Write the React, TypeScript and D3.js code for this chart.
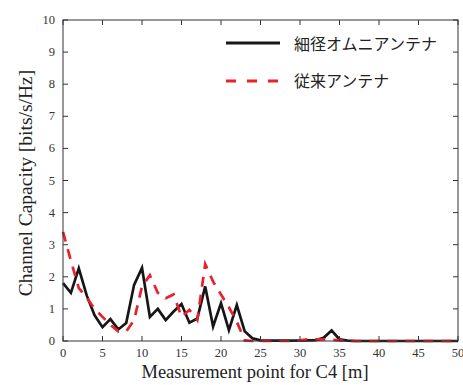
import React from 'react';
import * as d3 from 'd3';

// measurement points 0..50 m
const positions = d3.range(0, 51);

// 細径オムニアンテナ (solid black)
const omniCapacity = [
  1.8, 1.5, 2.26, 1.42, 0.8, 0.43, 0.68, 0.36, 0.56, 1.75,
  2.28, 0.75, 1.0, 0.65, 0.92, 1.15, 0.57, 0.7, 1.7, 0.45,
  1.18, 0.34, 1.12, 0.3, 0.08, 0.02, 0.01, 0.01, 0.01, 0.01,
  0.01, 0.02, 0.03, 0.1, 0.33, 0.05, 0.01, 0.0, 0.0, 0.0,
  0.0, 0.0, 0.0, 0.0, 0.0, 0.0, 0.0, 0.0, 0.0, 0.0, 0.0,
];

// 従来アンテナ (dashed red)
const conventionalCapacity = [
  3.4, 2.5, 1.65, 1.35, 1.0, 0.75, 0.5, 0.3, 0.3, 0.65,
  1.7, 2.05, 1.5, 1.33, 1.45, 0.75, 0.97, 0.65, 2.4, 1.85,
  1.45, 1.05, 0.6, 0.02, 0.0, 0.0, 0.0, 0.0, 0.0, 0.0,
  0.02, 0.05, 0.05, 0.05, 0.04, 0.02, 0.0, 0.0, 0.0, 0.0,
  0.0, 0.0, 0.0, 0.0, 0.0, 0.0, 0.0, 0.0, 0.0, 0.0, 0.0,
];

const xTicks = d3.range(0, 51, 5);
const yTicks = d3.range(0, 11, 1);
const legendLabels = ['細径オムニアンテナ', '従来アンテナ'];

const W = 463;
const H = 385;
const margin = { top: 20, right: 5, bottom: 44, left: 63 };
const serif = '"Liberation Serif", "Times New Roman", serif';
const RED = '#e8212b';
const BLACK = '#161616';

export default function App() {
  const x = d3.scaleLinear().domain([0, 50]).range([margin.left, W - margin.right]);
  const y = d3.scaleLinear().domain([0, 10]).range([H - margin.bottom, margin.top]);

  const line = d3.line<number>()
    .x((_, i) => x(positions[i]))
    .y(d => y(d));

  const x0 = x(0), x1 = x(50), y0 = y(0), y1 = y(10);
  const tick = 5;

  return (
    <svg width={W} height={H} style={{ position: 'absolute', left: 0, top: 0, background: '#fff' }}>
      {/* series */}
      <path d={line(omniCapacity) || ''} fill="none" stroke={BLACK} strokeWidth={2.7} />
      <path d={line(conventionalCapacity) || ''} fill="none" stroke={RED} strokeWidth={2.7} strokeDasharray="10,8" />

      {/* frame */}
      <rect x={x0} y={y1} width={x1 - x0} height={y0 - y1} fill="none" stroke="#333" strokeWidth={1} />

      {/* x ticks */}
      {xTicks.map(t => (
        <g key={'x' + t}>
          <line x1={x(t)} x2={x(t)} y1={y0} y2={y0 - tick} stroke="#333" />
          <line x1={x(t)} x2={x(t)} y1={y1} y2={y1 + tick} stroke="#333" />
          <text x={x(t)} y={y0 + 16} textAnchor="middle" fontFamily={serif} fontSize={12.5} fill="#333">{t}</text>
        </g>
      ))}

      {/* y ticks */}
      {yTicks.map(t => (
        <g key={'y' + t}>
          <line x1={x0} x2={x0 + tick} y1={y(t)} y2={y(t)} stroke="#333" />
          <line x1={x1} x2={x1 - tick} y1={y(t)} y2={y(t)} stroke="#333" />
          <text x={x0 - 8} y={y(t) + 4} textAnchor="end" fontFamily={serif} fontSize={12.5} fill="#333">{t}</text>
        </g>
      ))}

      {/* axis titles */}
      <text x={255} y={378} textAnchor="middle" fontFamily={serif} fontSize={18.5} fill="#222">
        Measurement point for C4 [m]
      </text>
      <text transform={`translate(32,183) rotate(-90)`} textAnchor="middle" fontFamily={serif} fontSize={19.5} fill="#222">
        Channel Capacity [bits/s/Hz]
      </text>

      {/* legend */}
      <g fontFamily='"Noto Sans CJK JP", sans-serif' fontSize={16} fill="#222">
        <line x1={226} x2={280} y1={43} y2={43} stroke={BLACK} strokeWidth={3} />
        <text x={294} y={50}>{legendLabels[0]}</text>
        <line x1={226} x2={280} y1={81} y2={81} stroke={RED} strokeWidth={3} strokeDasharray="10,11" />
        <text x={294} y={87}>{legendLabels[1]}</text>
      </g>
    </svg>
  );
}
